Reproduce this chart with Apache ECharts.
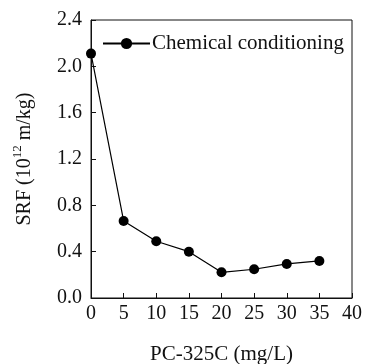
<!DOCTYPE html>
<html>
<head>
<meta charset="utf-8">
<script src="https://cdn.jsdelivr.net/npm/echarts@6/dist/echarts.min.js"></script>
<style>
html, body { margin: 0; padding: 0; background: #fff; }
#main { width: 365px; height: 364px; }
</style>
</head>
<body>
<div id="main"></div>
<script>
// PC-325C dose (mg/L) and SRF (10^12 m/kg)
var doses = [0, 5, 10, 15, 20, 25, 30, 35];
var srf = [2.11, 0.665, 0.49, 0.40, 0.222, 0.248, 0.294, 0.32];
var seriesName = 'Chemical conditioning';

var font = '"Liberation Serif", "Times New Roman", serif';
var ink = '#111';

var chart = echarts.init(document.getElementById('main'));

var option = {
    animation: false,
    backgroundColor: '#fff',
    textStyle: { fontFamily: font, color: ink },
    grid: {
        left: 91, right: 13, top: 20, bottom: 66,
        outerBoundsMode: 'none',
        show: true, borderColor: ink, borderWidth: 1
    },
    legend: {
        data: [seriesName],
        left: 97,
        top: 28,
        itemWidth: 47,
        itemHeight: 14,
        itemGap: 0,
        textStyle: { fontFamily: font, fontSize: 21, color: ink, padding: [0, 0, 0, -3] }
    },
    xAxis: {
        type: 'value',
        min: 0,
        max: 40,
        interval: 5,
        name: 'PC-325C (mg/L)',
        nameLocation: 'middle',
        nameGap: 46,
        nameTextStyle: { fontFamily: font, fontSize: 21, color: ink },
        axisLine: { lineStyle: { color: ink, width: 1 } },
        axisTick: { inside: true, length: 5, lineStyle: { color: ink } },
        axisLabel: { fontFamily: font, fontSize: 20, color: ink, margin: 6 },
        splitLine: { show: false }
    },
    yAxis: {
        type: 'value',
        min: 0,
        max: 2.4,
        interval: 0.4,
        name: '{a|SRF (10}{s|12}{a| m/kg)}',
        nameLocation: 'middle',
        nameGap: 56,
        nameRotate: 90,
        nameTextStyle: {
            fontFamily: font,
            color: ink,
            rich: {
                a: { fontFamily: font, fontSize: 20, color: ink, lineHeight: 24, verticalAlign: 'bottom' },
                s: { fontFamily: font, fontSize: 13, color: ink, lineHeight: 24, verticalAlign: 'top' }
            }
        },
        axisLine: { show: true, lineStyle: { color: ink, width: 1 } },
        axisTick: { show: true, inside: true, length: 5, lineStyle: { color: ink } },
        axisLabel: {
            fontFamily: font, fontSize: 20, color: ink, margin: 9,
            formatter: function (v) { return v.toFixed(1); }
        },
        splitLine: { show: false }
    },
    series: [{
        name: seriesName,
        type: 'line',
        data: doses.map(function (d, i) { return [d, srf[i]]; }),
        symbol: 'circle',
        symbolSize: 10,
        itemStyle: { color: '#000' },
        lineStyle: { color: '#000', width: 1.2 }
    }]
};

chart.setOption(option);
</script>
</body>
</html>
